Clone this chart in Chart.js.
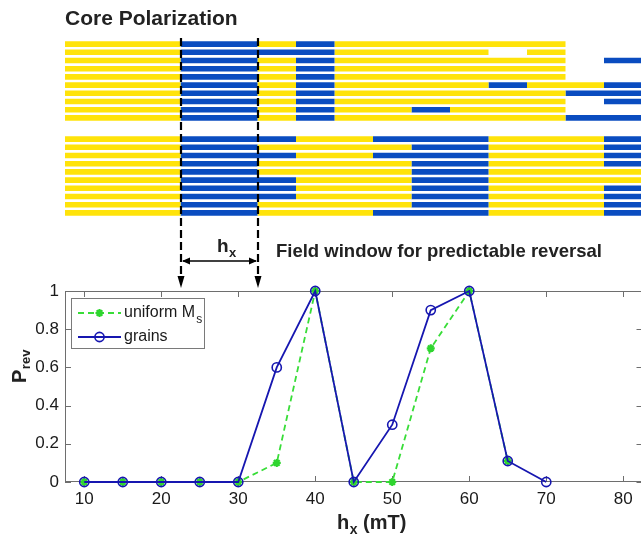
<!DOCTYPE html>
<html lang="en">
<head>
<meta charset="UTF-8">
<title>Core Polarization</title>
<script src="https://cdn.jsdelivr.net/npm/chart.js"></script>
<style>
    body { margin: 0; background: #fff; }
    #wrap { position: relative; width: 641px; height: 536px; overflow: hidden; background: #fff; }
    canvas { position: absolute; left: 0; }
    #gridA { top: 40px; }
    #gridB { top: 135px; }
    #plot { top: 0; }
</style>
</head>
<body>
<div id="wrap">
    <canvas id="gridA" width="644" height="82"></canvas>
    <canvas id="gridB" width="644" height="82"></canvas>
    <canvas id="plot" width="644" height="536"></canvas>
</div>
<script>
// field bins (mT) of the core polarization maps, 5 mT wide
const fieldBins = [10, 15, 20, 25, 30, 35, 40, 45, 50, 55, 60, 65, 70, 75, 80];
const binWidth = 5;
// Y = yellow, B = blue, . = nothing
const coreRowsA = [
    'YYYBBYBYYYYYY..',
    'YYYBBBBYYYY.Y..',
    'YYYBBYBYYYYYY.B',
    'YYYBBYBYYYYYY..',
    'YYYBBYBYYYYYY..',
    'YYYBBYBYYYYBYYB',
    'YYYBBYBYYYYYYBB',
    'YYYBBYBYYYYYY.B',
    'YYYBBYBYYBYYY..',
    'YYYBBYBYYYYYYBB'
];
const coreRowsB = [
    'YYYBBBYYBBBYYYB',
    'YYYBBYYYYBBYYYB',
    'YYYBBBYYBBBYYYB',
    'YYYBBYYYYBBYYYB',
    'YYYBBYYYYBBYYYY',
    'YYYBBBYYYBBYYYY',
    'YYYBBBYYYBBYYYB',
    'YYYBBBYYYBBYYYB',
    'YYYBBYYYYBBYYYB',
    'YYYBBYYYBBBYYYB'
];

// reversal probability vs field
const fieldValues = [10, 15, 20, 25, 30, 35, 40, 45, 50, 55, 60, 65, 70];
const uniformMs = [0, 0, 0, 0, 0, 0.1, 1, 0, 0, 0.7, 1, 0.11, null];
const grains = [0, 0, 0, 0, 0, 0.6, 1, 0, 0.3, 0.9, 1, 0.11, 0];
const xTicks = [10, 20, 30, 40, 50, 60, 70, 80];
const yTicks = [0, 0.2, 0.4, 0.6, 0.8, 1];
const windowEdges = [22.5, 32.5];

const FONT = "'Liberation Sans', Arial, sans-serif";
Chart.defaults.font.family = FONT;

const stateColor = { Y: '#ffe30a', B: '#0a4cc0' };

function toRuns(row) {
    const runs = [];
    for (let j = 0; j < row.length; j++) {
        const last = runs[runs.length - 1];
        if (last && last.state === row[j]) last.end = j;
        else runs.push({ state: row[j], start: j, end: j });
    }
    return runs.filter(r => r.state !== '.');
}

function makeGrid(id, rows) {
    const rowRuns = rows.map(toRuns);
    const maxRuns = Math.max(...rowRuns.map(r => r.length));
    const datasets = [];
    for (let k = 0; k < maxRuns; k++) {
        datasets.push({
            data: rowRuns.map(r => r[k] ? [fieldBins[r[k].start] - binWidth / 2, fieldBins[r[k].end] + binWidth / 2] : null),
            backgroundColor: rowRuns.map(r => r[k] ? stateColor[r[k].state] : 'rgba(0,0,0,0)'),
            borderWidth: 0,
            grouped: false,
            barPercentage: 0.68,
            categoryPercentage: 1
        });
    }
    return new Chart(document.getElementById(id), {
        type: 'bar',
        data: { labels: rows.map((r, i) => 'row ' + (i + 1)), datasets: datasets },
        options: {
            indexAxis: 'y',
            responsive: false,
            animation: false,
            layout: { autoPadding: false, padding: { left: 65, right: 1.5, top: 0, bottom: 0 } },
            plugins: { legend: { display: false }, tooltip: { enabled: false } },
            scales: {
                x: { type: 'linear', min: 7.5, max: 82.5, display: false },
                y: { display: false }
            }
        }
    });
}

const gridA = makeGrid('gridA', coreRowsA);
makeGrid('gridB', coreRowsB);

const toPoints = ys => fieldValues.map((x, i) => ({ x: x, y: ys[i] })).filter(p => p.y !== null);

// box + inward ticks, matlab style
const frameTicks = {
    id: 'frameTicks',
    beforeDatasetsDraw(chart) {
        const { ctx, chartArea: a, scales: { x, y } } = chart;
        ctx.save();
        ctx.strokeStyle = '#6e6e6e';
        ctx.lineWidth = 1;
        ctx.strokeRect(a.left + 0.5, a.top + 0.5, a.right - a.left - 1, a.bottom - a.top - 1);
        ctx.beginPath();
        xTicks.forEach(v => {
            const px = Math.round(x.getPixelForValue(v)) + 0.5;
            ctx.moveTo(px, a.bottom); ctx.lineTo(px, a.bottom - 6);
            ctx.moveTo(px, a.top); ctx.lineTo(px, a.top + 6);
        });
        yTicks.forEach(v => {
            const py = Math.round(y.getPixelForValue(v)) + 0.5;
            ctx.moveTo(a.left, py); ctx.lineTo(a.left + 6, py);
            ctx.moveTo(a.right, py); ctx.lineTo(a.right - 6, py);
        });
        ctx.stroke();
        ctx.restore();
    }
};

function drawMarker(ctx, ds, cx, cy) {
    ctx.save();
    ctx.strokeStyle = ds.pointBorderColor;
    ctx.lineWidth = ds.pointBorderWidth;
    ctx.setLineDash([]);
    const r = ds.pointRadius;
    ctx.beginPath();
    if (ds.pointStyle === 'star') {
        for (let i = 0; i < 4; i++) {
            const t = i * Math.PI / 4;
            ctx.moveTo(cx - r * Math.cos(t), cy - r * Math.sin(t));
            ctx.lineTo(cx + r * Math.cos(t), cy + r * Math.sin(t));
        }
    } else {
        ctx.arc(cx, cy, r, 0, Math.PI * 2);
    }
    ctx.stroke();
    ctx.restore();
}

// legend box inside the axes
const innerLegend = {
    id: 'innerLegend',
    afterDraw(chart) {
        const { ctx, chartArea: a } = chart;
        const bx = a.left + 6, by = a.top + 7, bw = 133, bh = 50;
        ctx.save();
        ctx.fillStyle = '#fff';
        ctx.fillRect(bx, by, bw, bh);
        ctx.strokeStyle = '#7a7a7a';
        ctx.lineWidth = 1;
        ctx.strokeRect(bx + 0.5, by + 0.5, bw, bh);
        chart.data.datasets.forEach((ds, i) => {
            const ly = by + 15 + i * 24;
            ctx.strokeStyle = ds.borderColor;
            ctx.lineWidth = ds.borderWidth;
            ctx.setLineDash(ds.borderDash || []);
            ctx.beginPath();
            ctx.moveTo(bx + 7, ly); ctx.lineTo(bx + 50, ly);
            ctx.stroke();
            drawMarker(ctx, ds, bx + 28.5, ly);
            ctx.fillStyle = '#1a1a1a';
            ctx.textBaseline = 'middle';
            ctx.font = '16px ' + FONT;
            ctx.fillText(ds.label, bx + 53, ly);
            if (ds.labelSub) {
                const w = ctx.measureText(ds.label).width;
                ctx.font = '12px ' + FONT;
                ctx.fillText(ds.labelSub, bx + 54 + w, ly + 7);
            }
        });
        ctx.restore();
    }
};

function subText(ctx, x, y, main, sub, size, subSize, drop) {
    ctx.font = 'bold ' + size + 'px ' + FONT;
    ctx.fillText(main, x, y);
    const w = ctx.measureText(main).width;
    ctx.font = 'bold ' + subSize + 'px ' + FONT;
    ctx.fillText(sub, x + w + 0.5, y + drop);
    return x + w + 0.5 + ctx.measureText(sub).width;
}

// titles, field window lines and arrows
const annotations = {
    id: 'annotations',
    afterDraw(chart) {
        const { ctx, scales: { x } } = chart;
        ctx.save();
        ctx.fillStyle = '#222';
        ctx.textBaseline = 'alphabetic';
        ctx.font = 'bold 21px ' + FONT;
        ctx.fillText('Core Polarization', 65, 25);

        const px = windowEdges.map(v => Math.round(x.getPixelForValue(v)));
        ctx.strokeStyle = '#000';
        ctx.fillStyle = '#000';
        ctx.lineWidth = 2.2;
        ctx.setLineDash([8, 4]);
        px.forEach(p => {
            ctx.beginPath();
            ctx.moveTo(p, 38); ctx.lineTo(p, 277);
            ctx.stroke();
        });
        ctx.setLineDash([]);
        px.forEach(p => {
            ctx.beginPath();
            ctx.moveTo(p - 3.5, 276); ctx.lineTo(p + 3.5, 276); ctx.lineTo(p, 288);
            ctx.closePath();
            ctx.fill();
        });
        // double arrow
        const ay = 261;
        ctx.lineWidth = 1.5;
        ctx.beginPath();
        ctx.moveTo(px[0] + 2, ay); ctx.lineTo(px[1] - 2, ay);
        ctx.stroke();
        ctx.beginPath();
        ctx.moveTo(px[0] + 1, ay); ctx.lineTo(px[0] + 9, ay - 3.5); ctx.lineTo(px[0] + 9, ay + 3.5); ctx.closePath();
        ctx.moveTo(px[1] - 1, ay); ctx.lineTo(px[1] - 9, ay - 3.5); ctx.lineTo(px[1] - 9, ay + 3.5); ctx.closePath();
        ctx.fill();

        ctx.fillStyle = '#222';
        subText(ctx, 217, 252, 'h', 'x', 19, 13, 5);
        ctx.font = 'bold 18.5px ' + FONT;
        ctx.fillText('Field window for predictable reversal', 276, 257);

        // axis titles
        const endX = subText(ctx, 337, 529, 'h', 'x', 20, 14, 5);
        ctx.font = 'bold 20px ' + FONT;
        ctx.fillText(' (mT)', endX, 529);

        ctx.translate(26, 383);
        ctx.rotate(-Math.PI / 2);
        subText(ctx, 0, 0, 'P', 'rev', 20, 13, 4);
        ctx.restore();
    }
};

new Chart(document.getElementById('plot'), {
    type: 'line',
    data: {
        datasets: [
            {
                label: 'uniform M',
                labelSub: 's',
                data: toPoints(uniformMs),
                borderColor: '#38dd38',
                borderWidth: 1.8,
                borderDash: [6, 4],
                pointStyle: 'star',
                pointRadius: 4,
                pointBorderWidth: 2.2,
                pointBorderColor: '#2fd52f',
                pointBackgroundColor: '#2fd52f',
                order: 2
            },
            {
                label: 'grains',
                data: toPoints(grains),
                borderColor: '#1616b0',
                borderWidth: 1.8,
                pointStyle: 'circle',
                pointRadius: 4.6,
                pointBorderWidth: 1.6,
                pointBorderColor: '#1616b0',
                pointBackgroundColor: 'rgba(0,0,0,0)',
                order: 1
            }
        ]
    },
    options: {
        responsive: false,
        animation: false,
        clip: false,
        layout: { autoPadding: false, padding: { left: 0, right: 1.5, top: 291, bottom: 0 } },
        plugins: { legend: { display: false }, tooltip: { enabled: false } },
        scales: {
            x: {
                type: 'linear', min: 7.5, max: 82.5,
                grid: { display: false, drawTicks: false },
                border: { display: false },
                afterBuildTicks: s => { s.ticks = xTicks.map(v => ({ value: v })); },
                afterFit: s => { s.height = 54; s.paddingLeft = 0; s.paddingRight = 0; },
                ticks: { color: '#1a1a1a', font: { size: 17 }, padding: 7, maxRotation: 0, callback: v => String(v) }
            },
            y: {
                type: 'linear', min: 0, max: 1,
                grid: { display: false, drawTicks: false },
                border: { display: false },
                afterBuildTicks: s => { s.ticks = yTicks.map(v => ({ value: v })); },
                afterFit: s => { s.width = 65; },
                ticks: { color: '#1a1a1a', font: { size: 17 }, padding: 6, callback: v => String(v) }
            }
        }
    },
    plugins: [frameTicks, innerLegend, annotations]
});
</script>
</body>
</html>
